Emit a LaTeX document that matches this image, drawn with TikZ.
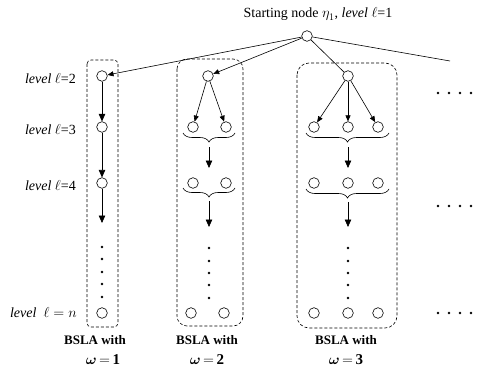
\documentclass[tikz,border=0pt]{standalone}
\usepackage{amsmath}
\usepackage{fontspec}
\setmainfont{Liberation Serif}
\usetikzlibrary{arrows.meta,decorations.pathreplacing}
\begin{document}
\begin{tikzpicture}[x=1pt,y=-1pt,
  nd/.style={circle,draw,line width=0.6pt,minimum size=10.6pt,inner sep=0pt,fill=white},
  edge/.style={line width=0.6pt},
  arr/.style={line width=0.6pt,-{Triangle[length=6pt,width=5pt]}},
  barr/.style={line width=0.7pt,-{Triangle[length=7.5pt,width=6.5pt]}},
  dbox/.style={draw,line width=0.6pt,dash pattern=on 3pt off 2pt},
  brc/.style={line width=0.6pt,decorate,decoration={brace,mirror,amplitude=9pt}},
  dt/.style={circle,fill,inner sep=0pt,minimum size=2.6pt},
  lvl/.style={anchor=base east,font=\fontsize{14}{16}\selectfont,inner sep=0pt},
  bsla/.style={font=\fontsize{13}{15}\selectfont\bfseries,inner sep=0pt}
]
\useasboundingbox (0,0) rectangle (477,369);

% dashed boxes
\draw[dbox,rounded corners=4pt] (87,60) rectangle (118,327);
\draw[dbox,rounded corners=10pt] (177,59) rectangle (243,326);
\draw[dbox,rounded corners=12pt] (297,63) rectangle (397,328);

% root
\node[nd] (root) at (307,36) {};
\node[anchor=base,font=\fontsize{14}{16}\selectfont,inner sep=0pt] (toplbl) at (318,18)
  {Starting node $\eta_1$, \textit{level} $\ell$=1};

% column 1
\node[nd] (a2) at (102,76) {};
\node[nd] (a3) at (102,127) {};
\node[nd] (a4) at (102,183) {};
\node[nd] (an) at (102,313) {};
\coordinate (a4e) at (102,223);
\draw[barr] (a2) -- (a3);
\draw[barr] (a3) -- (a4);
\draw[barr] (a4) -- (a4e);
\foreach \yy [count=\i] in {247,259,272,284,297} \node[dt] (ad\i) at (102,\yy) {};

% column 2
\node[nd] (b1) at (208,76) {};
\node[nd] (b2l) at (193,127) {};
\node[nd] (b2r) at (226,127) {};
\node[nd] (b3l) at (193,183) {};
\node[nd] (b3r) at (226,183) {};
\node[nd] (bnl) at (191,313) {};
\node[nd] (bnr) at (224,313) {};
\draw[arr] (b1) -- (b2l);
\draw[arr] (b1) -- (b2r);
\coordinate (bb1s) at (183,133); \coordinate (bb1e) at (235,133);
\coordinate (bb2s) at (183,188); \coordinate (bb2e) at (235,188);
\draw[brc] (bb1s) -- (bb1e);
\draw[brc] (bb2s) -- (bb2e);
\coordinate (ba1s) at (209,147); \coordinate (ba1e) at (209,168);
\coordinate (ba2s) at (209,201); \coordinate (ba2e) at (209,227);
\draw[barr] (ba1s) -- (ba1e);
\draw[barr] (ba2s) -- (ba2e);
\foreach \yy [count=\i] in {248,261,273,285,298} \node[dt] (bd\i) at (209,\yy) {};

% column 3
\node[nd] (d1) at (348,76) {};
\foreach \xx/\nm in {314/l,348/m,378/r}{
  \node[nd] (d2\nm) at (\xx,127) {};
  \node[nd] (d3\nm) at (\xx,183) {};
  \node[nd] (dn\nm) at (\xx,313) {};
}
\draw[arr] (d1) -- (d2l);
\draw[arr] (d1) -- (d2m);
\draw[arr] (d1) -- (d2r);
\coordinate (db1s) at (306,133); \coordinate (db1e) at (389,133);
\coordinate (db2s) at (306,189); \coordinate (db2e) at (389,189);
\draw[brc] (db1s) -- (db1e);
\draw[brc] (db2s) -- (db2e);
\coordinate (da1s) at (348,147); \coordinate (da1e) at (348,168);
\coordinate (da2s) at (348,202); \coordinate (da2e) at (348,227);
\draw[barr] (da1s) -- (da1e);
\draw[barr] (da2s) -- (da2e);
\foreach \yy [count=\i] in {248,261,273,285,298} \node[dt] (dd\i) at (348,\yy) {};

% root edges
\coordinate (rend) at (450,61);
\draw[arr] (root) -- (a2);
\draw[arr] (root) -- (b1);
\draw[edge] (root) -- (d1);
\draw[edge] (root) -- (rend);

% right dots
\foreach \yy [count=\j] in {93,206,313}
  \foreach \xx [count=\i] in {438,449,460,471}
    \node[dt] (r\j\i) at (\xx,\yy) {};

% level labels
\node[lvl] (l2) at (76,83.5) {\textit{level} $\ell$=2};
\node[lvl] (l3) at (76,134.5) {\textit{level} $\ell$=3};
\node[lvl] (l4) at (76,190.5) {\textit{level} $\ell$=4};
\node[lvl] (ln) at (77,317.5) {\textit{level}\ \ $\ell = n$};

% bottom labels
\node[bsla] (w1a) at (95,340) {BSLA with};
\node[bsla] (w2a) at (207,340) {BSLA with};
\node[bsla] (w3a) at (346,340) {BSLA with};
\node[inner sep=0pt,font=\fontsize{15}{17}\selectfont] (w1b) at (103,360) {$\boldsymbol{\omega}\,\mathbf{=}\,\mathbf{1}$};
\node[inner sep=0pt,font=\fontsize{15}{17}\selectfont] (w2b) at (207,360) {$\boldsymbol{\omega}\,\mathbf{=}\,\mathbf{2}$};
\node[inner sep=0pt,font=\fontsize{15}{17}\selectfont] (w3b) at (346,360) {$\boldsymbol{\omega}\,\mathbf{=}\,\mathbf{3}$};
\end{tikzpicture}
\end{document}
